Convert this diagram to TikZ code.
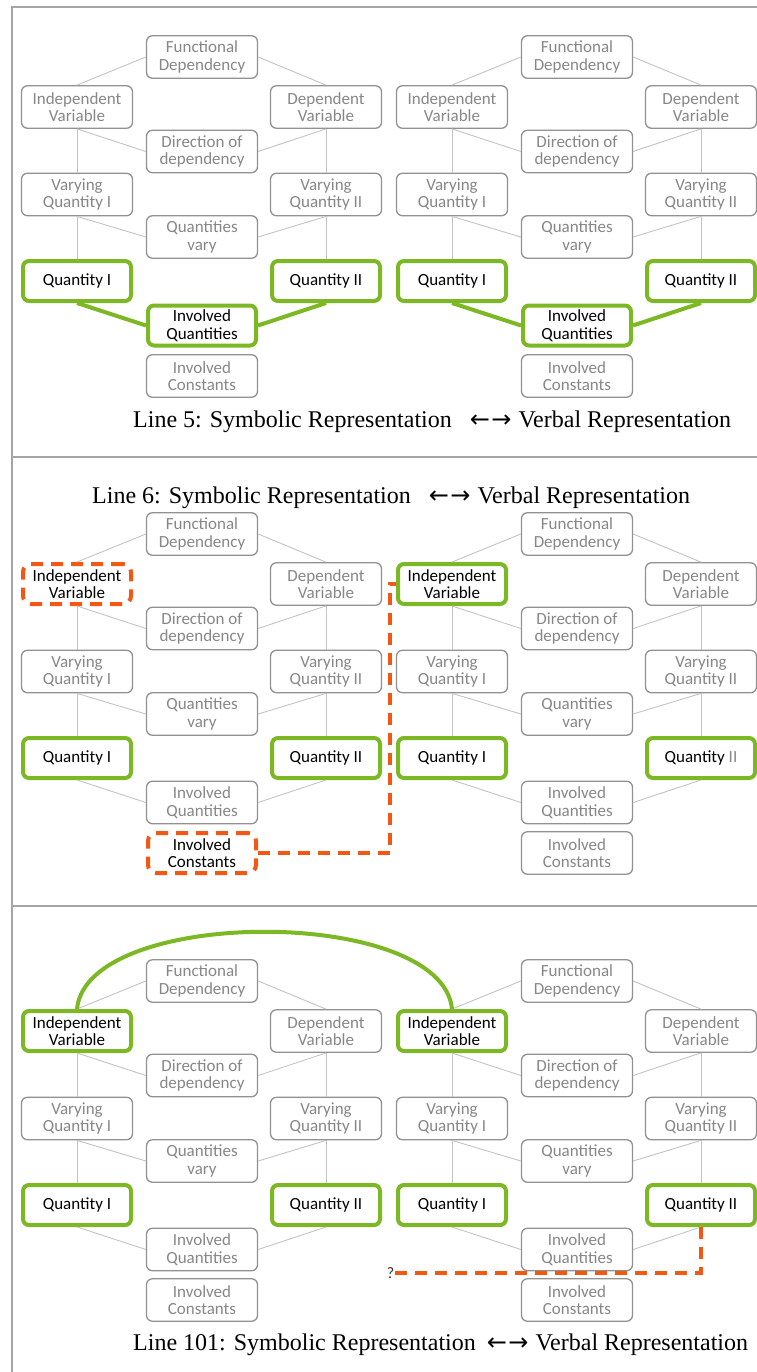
\documentclass[tikz,border=0pt]{standalone}
\usepackage{fontspec}
\setmainfont{Liberation Serif}
\newfontfamily\carl{Carlito}
\newfontfamily\arrowfont{DejaVu Sans}
\definecolor{gborder}{RGB}{145,145,145}
\definecolor{gtext}{RGB}{135,135,135}
\definecolor{glink}{RGB}{195,195,195}
\definecolor{hgreen}{RGB}{124,184,36}
\definecolor{horange}{RGB}{242,88,20}
\definecolor{framecol}{RGB}{165,165,165}
\tikzset{
  basebox/.style={rounded corners=6pt, align=center, inner sep=1pt, fill=white,
    font=\carl\fontsize{17}{17.5}\selectfont},
  gbox/.style={basebox, draw=gborder, line width=1.3pt, text=gtext,
    minimum width=111pt, minimum height=42.5pt},
  hbox/.style={basebox, draw=hgreen, line width=4pt, text=black,
    minimum width=108pt, minimum height=40pt},
  obox/.style={basebox, draw=horange, line width=4pt, text=black,
    dash pattern=on 12pt off 8pt, rounded corners=8pt,
    minimum width=108pt, minimum height=40pt},
  glinkst/.style={draw=glink, line width=0.9pt},
  hlinkst/.style={draw=hgreen, line width=4pt},
  odash/.style={draw=horange, line width=4pt, dash pattern=on 12pt off 8pt},
  garc/.style={draw=hgreen, line width=4pt},
  framest/.style={draw=framecol, line width=1.5pt},
  capst/.style={inner sep=0pt, font=\fontsize{24}{28}\selectfont, anchor=base west},
  FDst/.style={gbox}, IVst/.style={gbox}, DVst/.style={gbox}, DDst/.style={gbox},
  V1st/.style={gbox}, V2st/.style={gbox}, QVst/.style={gbox}, Q1st/.style={gbox},
  Q2st/.style={gbox}, IQst/.style={gbox}, ICst/.style={gbox}, QLst/.style={glinkst}
}
\newcommand{\QIItext}{Quantity II}
\newcommand{\lrarrows}{{\arrowfont\fontsize{24}{28}\selectfont ←\kern1.5pt→}}
\newcommand{\hexdiagram}[1]{%
  \node[FDst] (#1FD) at (202,57) {Functional\\Dependency};
  \node[IVst] (#1IV) at (77,107) {Independent\\Variable};
  \node[DVst] (#1DV) at (326,107) {Dependent\\Variable};
  \node[DDst] (#1DD) at (202,151.5) {Direction of\\dependency};
  \node[V1st] (#1V1) at (77,194.5) {Varying\\Quantity I};
  \node[V2st] (#1V2) at (326,194.5) {Varying\\Quantity II};
  \node[QVst] (#1QV) at (202,237) {Quantities\\vary};
  \node[Q1st] (#1Q1) at (77,281) {Quantity I};
  \node[Q2st] (#1Q2) at (326,281) {\QIItext};
  \node[IQst] (#1IQ) at (202,325.5) {Involved\\Quantities};
  \node[ICst] (#1IC) at (202,376) {Involved\\Constants};
  \path[glinkst] (#1FD.west) -- (#1IV.north);
  \path[glinkst] (#1FD.east) -- (#1DV.north);
  \path[glinkst] (#1IV.south) -- (#1DD.west);
  \path[glinkst] (#1DV.south) -- (#1DD.east);
  \path[glinkst] (#1IV.south) -- (#1V1.north);
  \path[glinkst] (#1DV.south) -- (#1V2.north);
  \path[glinkst] (#1V1.south) -- (#1QV.west);
  \path[glinkst] (#1V2.south) -- (#1QV.east);
  \path[glinkst] (#1V1.south) -- (#1Q1.north);
  \path[glinkst] (#1V2.south) -- (#1Q2.north);
  \path[QLst] (#1Q1.south) -- (#1IQ.west);
  \path[QLst] (#1Q2.south) -- (#1IQ.east);
}
\begin{document}
\begin{tikzpicture}[x=1pt, y=-1pt]
\useasboundingbox (0,0) rectangle (756,1372);
% frame
\draw[framest] (12,1380) -- (12,7) -- (760,7);
\draw[framest] (12,457) -- (760,457);
\draw[framest] (12,906) -- (760,906);

% ---------- panel 1 ----------
\begin{scope}[Q1st/.style={hbox}, Q2st/.style={hbox}, IQst/.style={hbox}, QLst/.style={hlinkst}]
  \hexdiagram{pa}
\end{scope}
\begin{scope}[shift={(375,0)}, Q1st/.style={hbox}, Q2st/.style={hbox}, IQst/.style={hbox}, QLst/.style={hlinkst}]
  \hexdiagram{pb}
\end{scope}
\node[capst] (cap1) at (133,427) {Line 5: Symbolic Representation\hspace{18pt}\lrarrows\hspace{7pt}Verbal Representation};

% ---------- panel 2 ----------
\node[capst] (cap2) at (92,503) {Line 6: Symbolic Representation\hspace{18pt}\lrarrows\hspace{7pt}Verbal Representation};
\begin{scope}[shift={(0,477)}, IVst/.style={obox}, Q1st/.style={hbox}, Q2st/.style={hbox}, ICst/.style={obox}]
  \hexdiagram{qa}
\end{scope}
\begin{scope}[shift={(375,477)}, IVst/.style={hbox}, Q1st/.style={hbox}, Q2st/.style={hbox}]
  \def\QIItext{Quantity \textcolor{gtext}{II}}
  \hexdiagram{qb}
\end{scope}
\coordinate (qturn) at (390,853);
\draw[odash] (qaIC.east) -- (qturn) |- (qbIV.west);

% ---------- panel 3 ----------
\begin{scope}[shift={(0,924)}, IVst/.style={hbox}, Q1st/.style={hbox}, Q2st/.style={hbox}]
  \hexdiagram{ra}
\end{scope}
\begin{scope}[shift={(375,924)}, IVst/.style={hbox}, Q1st/.style={hbox}, Q2st/.style={hbox}]
  \hexdiagram{rb}
\end{scope}
\draw[garc] (raIV.north) .. controls (87,906) and (442,906) .. (rbIV.north);
\node[anchor=east, inner sep=0.5pt, text=black!80, font=\carl\fontsize{16}{18}\selectfont] (qmark) at (395,1273) {?};
\draw[odash] (rbQ2.south) |- (qmark.east);
\node[capst] (cap3) at (133,1350) {Line 101: Symbolic Representation\hspace{11pt}\lrarrows\hspace{7pt}Verbal Representation};
\end{tikzpicture}
\end{document}
